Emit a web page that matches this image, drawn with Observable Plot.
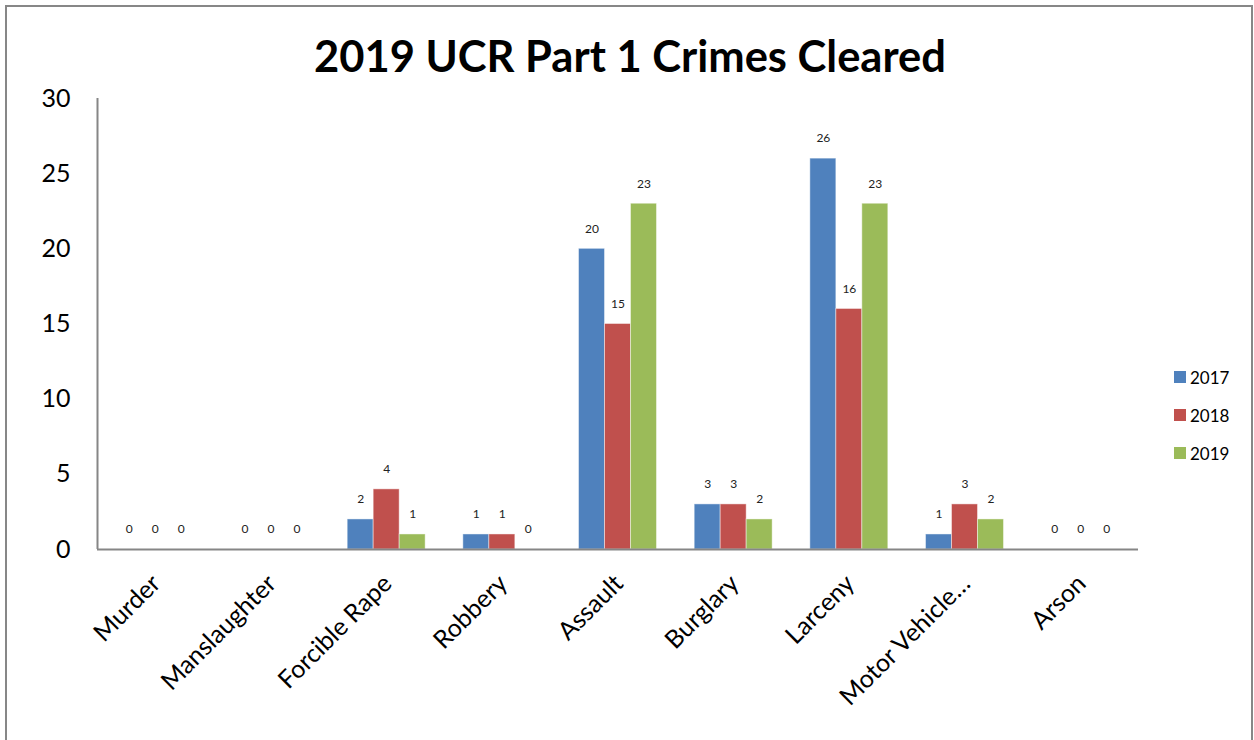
<!DOCTYPE html>
<html>
<head>
<meta charset="utf-8">
<script src="https://cdn.jsdelivr.net/npm/d3@7"></script>
<script src="https://cdn.jsdelivr.net/npm/@observablehq/plot@0.6"></script>
<style>
  html, body { margin: 0; padding: 0; background: #fff; }
  #wrap { position: relative; width: 1254px; height: 740px; overflow: hidden; font-family: Lato, "Open Sans", sans-serif; }
  #border { position: absolute; left: 5px; top: 5px; width: 1244px; height: 760px; border: 2px solid #878787; }
  #title { position: absolute; left: 3px; top: 30px; width: 1254px; text-align: center; font-size: 43.5px; font-weight: bold; line-height: 50px; color: #000; }
  #chart { position: absolute; left: 0; top: 0; }
  #legend { position: absolute; left: 1174px; top: 358px; font-size: 17px; color: #000; }
  .item { height: 38px; display: flex; align-items: center; }
  .sw { width: 12px; height: 12px; margin-right: 4px; }
</style>
</head>
<body>
<div id="wrap">
  <div id="border"></div>
  <div id="title">2019 UCR Part 1 Crimes Cleared</div>
  <div id="chart"></div>
  <div id="legend"></div>
</div>
<script>
const categories = ["Murder", "Manslaughter", "Forcible Rape", "Robbery", "Assault", "Burglary", "Larceny", "Motor Vehicle…", "Arson"];
const years = ["2017", "2018", "2019"];
const values2017 = [0, 0, 2, 1, 20, 3, 26, 1, 0];
const values2018 = [0, 0, 4, 1, 15, 3, 16, 3, 0];
const values2019 = [0, 0, 1, 0, 23, 2, 23, 2, 0];
const yTicks = [0, 5, 10, 15, 20, 25, 30];
const colors = ["#4F81BD", "#C0504D", "#9BBB59"];

const series = [values2017, values2018, values2019];

const W = 1254, H = 740;
const mL = 97, mR = 116, mT = 98, mB = 191;
const pad = 0.326;
const step = (W - mL - mR) / categories.length;
const band = step * (1 - pad);
const barW = band / years.length;

const marks = [];
years.forEach((yr, k) => {
  const rows = categories.map((c, i) => ({category: c, year: yr, value: series[k][i]}));
  marks.push(Plot.barY(rows, {
    x: "category", y: "value", fill: colors[k],
    insetLeft: barW * k, insetRight: barW * (years.length - 1 - k),
    stroke: "white", strokeOpacity: 0.45, strokeWidth: 1
  }));
  marks.push(Plot.text(rows, {
    x: "category", y: "value", text: d => String(d.value),
    dx: (k - 1) * barW, dy: -20, fontSize: 12, fill: "#222", lineAnchor: "middle"
  }));
});

const chart = Plot.plot({
  width: W, height: H,
  marginLeft: mL, marginRight: mR, marginTop: mT, marginBottom: mB,
  style: {fontFamily: "Lato, 'Open Sans', sans-serif", fontSize: "24px", color: "#000", background: "transparent", overflow: "visible"},
  x: {domain: categories, paddingInner: pad, paddingOuter: pad / 2, round: false, axis: null},
  y: {domain: [0, 30], axis: null},
  marks: [
    ...marks,
    Plot.ruleY([0], {stroke: "#868686", strokeWidth: 2}),
    Plot.ruleX([categories[0]], {dx: -step / 2, stroke: "#868686", strokeWidth: 2}),
    Plot.axisY({ticks: yTicks, tickSize: 0, tickPadding: 27, fontSize: 25, fill: "#000", anchor: "left", label: null}),
    Plot.axisX({tickRotate: -45, tickSize: 0, tickPadding: 30, dx: 1, fontSize: 25, fill: "#000", label: null})
  ]
});
document.getElementById("chart").appendChild(chart);

const legend = document.getElementById("legend");
years.forEach((yr, k) => {
  const item = document.createElement("div");
  item.className = "item";
  const sw = document.createElement("div");
  sw.className = "sw";
  sw.style.background = colors[k];
  const t = document.createElement("span");
  t.textContent = yr;
  item.appendChild(sw);
  item.appendChild(t);
  legend.appendChild(item);
});
</script>
</body>
</html>
